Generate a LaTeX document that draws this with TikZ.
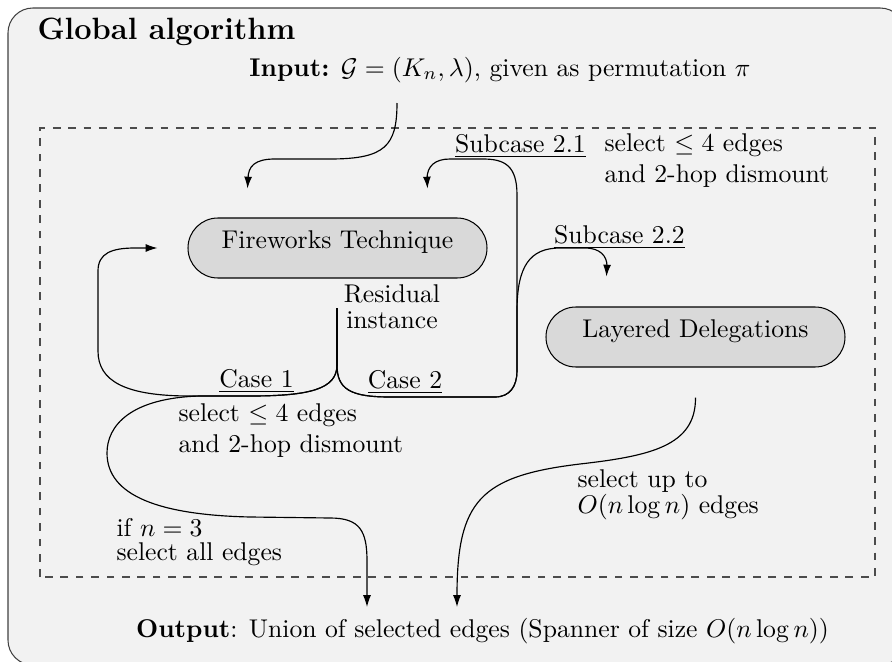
\documentclass[tikz,border=0pt]{standalone}
\usetikzlibrary{arrows.meta, calc}
\tikzset{
	stage/.style = {draw, fill=black!15, rounded corners=4.1mm, minimum width=40.96mm, minimum height=8.22mm, inner sep=0pt, text height=2ex, text depth=2ex},
	note/.style = {align=left, inner sep=0pt, anchor=base west},
	tag/.style = {inner sep=0pt, anchor=base},
	flow/.style = {-{Latex[length=4.6pt, width=3.1pt]}, black, line width=0.45pt}
}

\begin{document}
\begin{tikzpicture}[x=0.137mm, y=0.137mm]
	\useasboundingbox (0,0) rectangle (892,661);
	% ====== Frames ========
	\draw[black!75, fill=black!5, rounded corners=3.4mm] (8,-4) rectangle (905,653);
	\draw[dashed, black!70] (40,84) rectangle (875,533);
	\node[note, font=\large\bfseries] (title) at (37,622) {Global algorithm};
	\node[tag] (input) at (500,585) {\textbf{Input:} $\mathcal{G}=(K_n,\lambda)$, given as permutation $\pi$};
	\node[tag] (output) at (482.5,24) {\textbf{Output}: Union of selected edges (Spanner of size $O(n\log n)$)};
	% ====== Stages ========
	\node[stage] (fw) at (337.5,413) {Fireworks Technique};
	\node[stage] (ld) at (695.5,324) {Layered Delegations};
	\node[tag, align=center] (res) at (392,333) {Residual\\[-2.25pt]instance};
	\node[tag] (case1) at (256.5,274) {\underline{Case 1}};
	\node[tag] (case2) at (405,273) {\underline{Case 2}};
	\node[tag] (sub1) at (520.5,509) {\underline{Subcase 2.1}};
	\node[tag] (sub2) at (619.5,418) {\underline{Subcase 2.2}};
	% multi-line notes sit on their last line
	\node[note] (sub1txt) at (604,479) {select $\leq 4$ edges\\and 2-hop dismount};
	\node[note] (case1txt) at (178,209) {select $\leq 4$ edges\\and 2-hop dismount};
	\node[note] (smalltxt) at (116,101) {if $n=3$\\[-3pt]select all edges};
	\node[note] (ldtxt) at (577,148) {select up to\\[-1.9pt]$O(n\log n)$ edges};
	% ====== Ends ========
	\coordinate (src) at (397,558);
	\coordinate (rs) at (337,353);
	\coordinate (fwin1) at ($(fw.north west)+(60,29)$);
	\coordinate (fwin2) at ($(fw.north east)+(-60,29)$);
	\coordinate (fwin3) at ($(fw.west)+(-30,0)$);
	\coordinate (ldin) at ($(ld.north west)+(61,30)$);
	\coordinate (ldout) at ($(ld.south)+(0,-30)$);
	\coordinate (out1) at (367,54);
	\coordinate (out2) at (457,54);
	% ====== Flows ========
	\draw[flow] (src) .. controls (397,515) and (385,502) .. (330,502) -- (275,502) .. controls (255,502) and (248,495) .. (248,482) -- (fwin1);
	\draw[flow] (rs) -- (337,296) .. controls (337,272) and (310,265) .. (250,265) -- (190,265) .. controls (125,265) and (98,280) .. (98,310) -- (98,390) .. controls (98,408) and (112,413) .. (135,413) -- (fwin3);
	\draw[flow] (rs) -- (337,296) .. controls (337,272) and (310,265) .. (250,265) -- (200,265) .. controls (130,263) and (107,235) .. (107,208) .. controls (107,165) and (160,146) .. (250,144) -- (330,143) .. controls (360,143) and (367,130) .. (367,100) -- (out1);
	\draw[flow] (rs) -- (337,296) .. controls (337,272) and (350,264) .. (390,264) -- (495,264) .. controls (510,264) and (517,275) .. (517,290) -- (517,466) .. controls (517,495) and (505,502) .. (483,502) -- (450,502) .. controls (435,502) and (427,495) .. (427,482) -- (fwin2);
	\draw[flow] (rs) -- (337,296) .. controls (337,272) and (350,264) .. (390,264) -- (495,264) .. controls (510,264) and (517,275) .. (517,290) -- (517,350) .. controls (517,395) and (530,413) .. (560,413) -- (585,413) .. controls (600,413) and (607,405) .. (607,395) -- (ldin);
	\draw[flow] (ldout) .. controls (696,215) and (650,205) .. (580,197) .. controls (480,185) and (457,160) .. (out2);
\end{tikzpicture}
\end{document}
